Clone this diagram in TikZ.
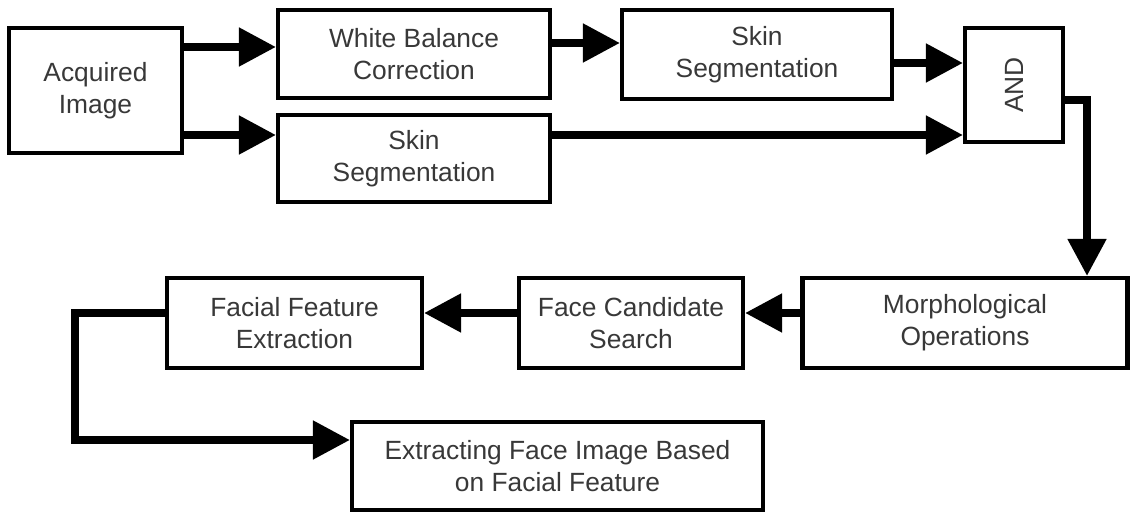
\documentclass[tikz,border=0pt]{standalone}
\usepackage{fontspec}
\setmainfont{Liberation Sans}
\usetikzlibrary{positioning,arrows.meta}
\tikzset{
flow/.style={-{Triangle[length=0.74cm,width=0.74cm]}, line width=4.5pt},
every node/.style={font=\fontsize{15}{18.2}\selectfont, text=black!78},
}

\begin{document}
\begin{tikzpicture}
        [block/.style={draw=black, line width=2.3pt, align=center, inner sep=0pt}]
        \useasboundingbox (0,0) rectangle (22.64,-10.26);

        \node [block, minimum width=3.46cm, minimum height=2.5cm] (acq) at (1.91,-1.81)
        {Acquired\\Image};

        \node [block, minimum width=5.44cm, minimum height=1.76cm] (wbc) at (8.28,-1.08)
        {White Balance\\Correction};

        \node [block, minimum width=5.4cm, minimum height=1.78cm] (skinA) at (15.14,-1.09)
        {Skin\\Segmentation};

        \node [block, minimum width=1.96cm, minimum height=2.28cm] (and) at (20.28,-1.7)
        {\rotatebox{90}{AND}};

        \node [block, minimum width=5.44cm, minimum height=1.74cm] (skinB) at (8.28,-3.17)
        {Skin\\Segmentation};

        \node [block, minimum width=6.5cm, minimum height=1.8cm] (morph) at (19.3,-6.46)
        {Morphological\\Operations};

        \node [block, minimum width=4.48cm, minimum height=1.8cm] (fcs) at (12.62,-6.46)
        {Face Candidate\\Search};

        \node [block, minimum width=5.1cm, minimum height=1.8cm] (ffe) at (5.89,-6.46)
        {Facial Feature\\Extraction};

        \node [block, minimum width=8.22cm, minimum height=1.76cm] (ext) at (11.15,-9.32)
        {Extracting Face Image Based\\on Facial Feature};

        \draw[flow] ([yshift=0.87cm]acq.east) -- ([yshift=0.87cm]acq.east -| wbc.west);
        \draw[flow] ([yshift=-0.89cm]acq.east) -- ([yshift=-0.89cm]acq.east -| skinB.west);
        \draw[flow] ([yshift=0.22cm]wbc.east) -- ([yshift=0.22cm]wbc.east -| skinA.west);
        \draw[flow] ([yshift=-0.17cm]skinA.east) -- ([yshift=-0.17cm]skinA.east -| and.west);
        \draw[flow] ([yshift=0.47cm]skinB.east) -- ([yshift=0.47cm]skinB.east -| and.west);
        \draw[flow] ([yshift=-0.3cm]and.east) -| ([xshift=2.44cm]morph.north);
        \draw[flow] ([yshift=0.2cm]morph.west) -- ([yshift=0.2cm]morph.west -| fcs.east);
        \draw[flow] ([yshift=0.2cm]fcs.west) -- ([yshift=0.2cm]fcs.west -| ffe.east);
        \draw[flow] ([yshift=0.2cm]ffe.west) -- ++(-1.8,0) |- ([yshift=0.52cm]ext.west);
    \end{tikzpicture}
\end{document}
